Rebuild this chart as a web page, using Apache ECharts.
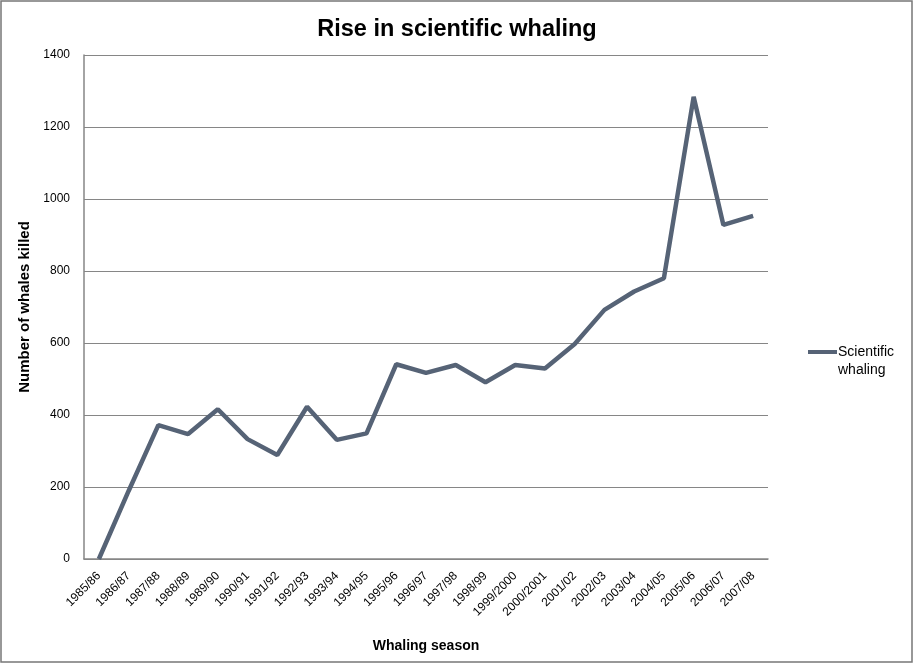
<!DOCTYPE html>
<html>
<head>
<meta charset="utf-8">
<script src="https://cdn.jsdelivr.net/npm/echarts@6/dist/echarts.min.js"></script>
<style>html,body{margin:0;padding:0;background:#fff}#c{width:914px;height:664px}</style>
</head>
<body>
<div id="c"></div>
<script>
var seasons = ["1985/86","1986/87","1987/88","1988/89","1989/90","1990/91","1991/92","1992/93","1993/94","1994/95","1995/96","1996/97","1997/98","1998/99","1999/2000","2000/2001","2001/02","2002/03","2003/04","2004/05","2005/06","2006/07","2007/08"];
var scientificWhaling = [0,189,372,347,416,333,289,423,331,349,541,517,539,491,539,529,597,692,743,780,1284,928,953];
var yTicks = [0,200,400,600,800,1000,1200,1400];

var chart = echarts.init(document.getElementById('c'), null, {renderer:'canvas'});
var font = 'Liberation Sans, Arial, sans-serif';
chart.setOption({
  animation:false,
  backgroundColor:'#fff',
  title:{text:'Rise in scientific whaling',left:'center',top:13,
    textStyle:{fontFamily:font,fontSize:23.5,fontWeight:'bold',color:'#000'}},
  legend:{orient:'vertical',left:803,top:320,itemWidth:29,itemHeight:4,itemGap:4,
    icon:'rect',
    formatter:function(n){return '\u00a0\n'+n;},
    data:[{name:'Scientific\nwhaling',itemStyle:{color:'#566376'}}],
    textStyle:{fontFamily:font,fontSize:14,color:'#000',padding:[0,0,0,-4],lineHeight:18}},
  grid:{left:84,right:146,top:55,bottom:105,containLabel:false},
  xAxis:{type:'category',data:seasons,boundaryGap:true,
    name:'Whaling season',nameLocation:'middle',nameGap:80,
    nameTextStyle:{fontFamily:font,fontSize:14,fontWeight:'bold',color:'#000'},
    axisLine:{lineStyle:{color:'#868686',width:1.5}},
    axisTick:{show:false},
    axisLabel:{interval:0,rotate:45,fontFamily:font,fontSize:12,color:'#000',margin:15}},
  yAxis:{type:'value',min:yTicks[0],max:yTicks[yTicks.length-1],interval:200,
    name:'Number of whales killed',nameLocation:'middle',nameGap:51,
    nameTextStyle:{fontFamily:font,fontSize:15,fontWeight:'bold',color:'#000'},
    axisLine:{show:true,lineStyle:{color:'#868686',width:1.5}},
    axisTick:{show:false},
    splitLine:{lineStyle:{color:'#868686',width:1}},
    axisLabel:{fontFamily:font,fontSize:12,color:'#000',margin:14,formatter:function(v){return String(v);}}},
  series:[{name:'Scientific\nwhaling',type:'line',data:scientificWhaling,
    symbol:'none',lineStyle:{color:'#566376',width:4.5},itemStyle:{color:'#566376'}}],
  graphic:[{type:'rect',shape:{x:1,y:1,width:911,height:661},
    style:{fill:'none',stroke:'#777',lineWidth:1.5},silent:true}]
});
</script>
</body>
</html>
